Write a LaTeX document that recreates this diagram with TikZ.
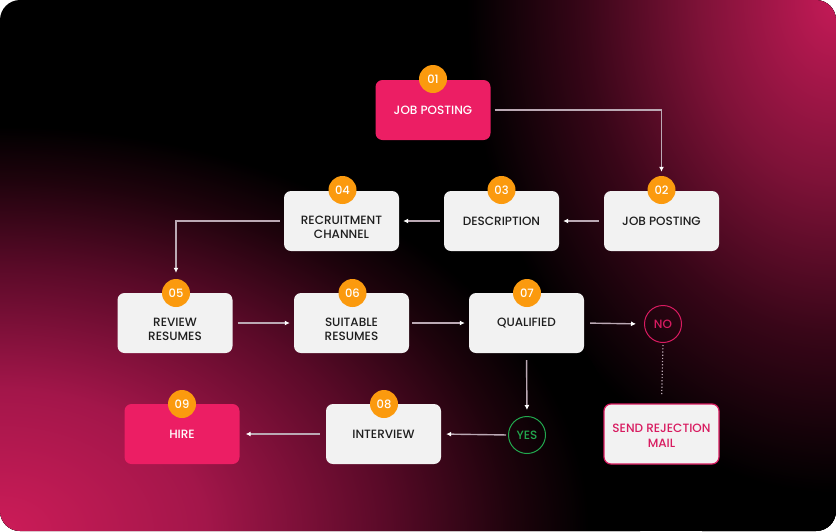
\documentclass[tikz,border=0pt]{standalone}
\usepackage{fontspec}
\setmainfont{Poppins Medium}
\usetikzlibrary{arrows.meta}
\definecolor{boxfill}{HTML}{F2F2F2}
\definecolor{boxtext}{HTML}{1E1E1E}
\definecolor{hotpink}{HTML}{EC1E64}
\definecolor{badge}{HTML}{FB9A0E}
\definecolor{arrowc}{HTML}{BBA9B4}
\definecolor{nopink}{HTML}{D81B60}
\definecolor{yesgreen}{HTML}{22A84E}
\definecolor{trA}{HTML}{C41A57}
\definecolor{trB}{HTML}{7F1238}
\definecolor{trC}{HTML}{380618}
\definecolor{blA}{HTML}{CC1C58}
\definecolor{blB}{HTML}{A3164A}
\definecolor{blC}{HTML}{5A0A28}
\definecolor{blD}{HTML}{1E030C}
\pgfdeclareradialshading{trshade}{\pgfpoint{0bp}{0bp}}{color(0bp)=(trA); color(8bp)=(trB); color(15bp)=(trC); color(22bp)=(black); color(50bp)=(black)}
\pgfdeclareradialshading{blshade}{\pgfpoint{0bp}{0bp}}{color(0bp)=(blA); color(8bp)=(blB); color(15bp)=(blC); color(20bp)=(blD); color(23bp)=(black); color(50bp)=(black)}
\tikzset{
  stepbox/.style={rounded corners=7pt, minimum width=115pt, minimum height=60pt, fill=boxfill, text=boxtext, align=center, font=\fontsize{12}{13.5}\selectfont, inner sep=0pt},
  pinkbox/.style={stepbox, fill=hotpink, text=white},
  mailbox/.style={stepbox, draw=nopink, line width=1.2pt, text=nopink, fill=boxfill},
  boxlabel/.style={align=center, inner sep=0pt, font=\fontsize{12}{13.5}\selectfont},
  numbadge/.style={circle, fill=badge, text=white, minimum size=28pt, inner sep=0pt, font=\fontsize{11.5}{13}\selectfont},
  flow/.style={draw=arrowc, line width=1.4pt, -{Latex[length=5pt,width=5pt,fill=white,color=white]}},
  decision/.style={circle, minimum size=37pt, inner sep=0pt, line width=1pt, font=\fontsize{12}{13}\selectfont},
}
\begin{document}
\begin{tikzpicture}[x=1pt,y=-1pt]
\useasboundingbox (0,0) rectangle (836,531);
\fill[white] (0,0) rectangle (836,531);
\begin{scope}
\clip[rounded corners=20pt] (0,0) rectangle (836,531);
\fill[black] (0,0) rectangle (836,531);
\fill[shading=trshade] (836,0) ellipse [x radius=420, y radius=560];
\fill[shading=blshade] (0,531) ellipse [x radius=640, y radius=440];
\end{scope}

% boxes
\node[pinkbox] (n1) at (433,110) {JOB POSTING};
\node[stepbox] (n2) at (661.5,221) {JOB POSTING};
\node[stepbox] (n3) at (501.5,221) {DESCRIPTION};
\node[stepbox] (n4) at (341.5,221) {};
\node[boxlabel, text=boxtext] (t4) at ([yshift=-6.5pt]n4.center) {RECRUITMENT\\CHANNEL};
\node[stepbox] (n5) at (175,323) {};
\node[boxlabel, text=boxtext] (t5) at ([yshift=-6.5pt]n5.center) {REVIEW\\RESUMES};
\node[stepbox] (n6) at (351.5,323) {};
\node[boxlabel, text=boxtext] (t6) at ([yshift=-6.5pt]n6.center) {SUITABLE\\RESUMES};
\node[stepbox] (n7) at (526.5,323) {QUALIFIED};
\node[stepbox] (n8) at (383.5,434) {INTERVIEW};
\node[pinkbox] (n9) at (182,434) {HIRE};
\node[mailbox] (mail) at (661.5,434) {};
\node[boxlabel, text=nopink] (tm) at ([yshift=-2pt]mail.center) {SEND REJECTION\\[2pt]MAIL};
\node[decision, draw=nopink, text=nopink] (no) at (663,324) {NO};
\node[decision, draw=yesgreen, text=yesgreen] (yes) at (527,435) {YES};

% badges
\node[numbadge] (b1) at (433,79) {01};
\node[numbadge] (b2) at (661.5,190) {02};
\node[numbadge] (b3) at (501.5,190) {03};
\node[numbadge] (b4) at (342.5,190) {04};
\node[numbadge] (b5) at (176,293) {05};
\node[numbadge] (b6) at (352.5,293) {06};
\node[numbadge] (b7) at (527,293) {07};
\node[numbadge] (b8) at (384,404) {08};
\node[numbadge] (b9) at (182,404) {09};

% connectors
\draw[flow, shorten <=4pt, shorten >=4pt] (n1.east) -| (b2.north);
\draw[flow, shorten <=5pt, shorten >=4pt] (n2.west) -- (n3.east);
\draw[flow, shorten <=4pt, shorten >=4pt] (n3.west) -- (n4.east);
\draw[flow, shorten <=4pt, shorten >=6pt] (n4.west) -| (b5.north);
\draw[flow, shorten <=5pt, shorten >=4pt] (n5.east) -- (n6.west);
\draw[flow, shorten <=3pt, shorten >=4pt] (n6.east) -- (n7.west);
\draw[flow, shorten <=6pt, shorten >=8pt] (n7.east) -- (no.west);
\draw[flow, shorten <=7pt, shorten >=6pt] (n7.south) -- (yes.north);
\draw[flow, shorten <=2pt, shorten >=5pt] (yes.west) -- (n8.east);
\draw[flow, shorten <=6pt, shorten >=6pt] (n8.west) -- (n9.east);
\draw[arrowc, line width=1.2pt, dotted, shorten <=2pt, shorten >=9pt] (no.south) -- (mail.north);
\end{tikzpicture}
\end{document}
